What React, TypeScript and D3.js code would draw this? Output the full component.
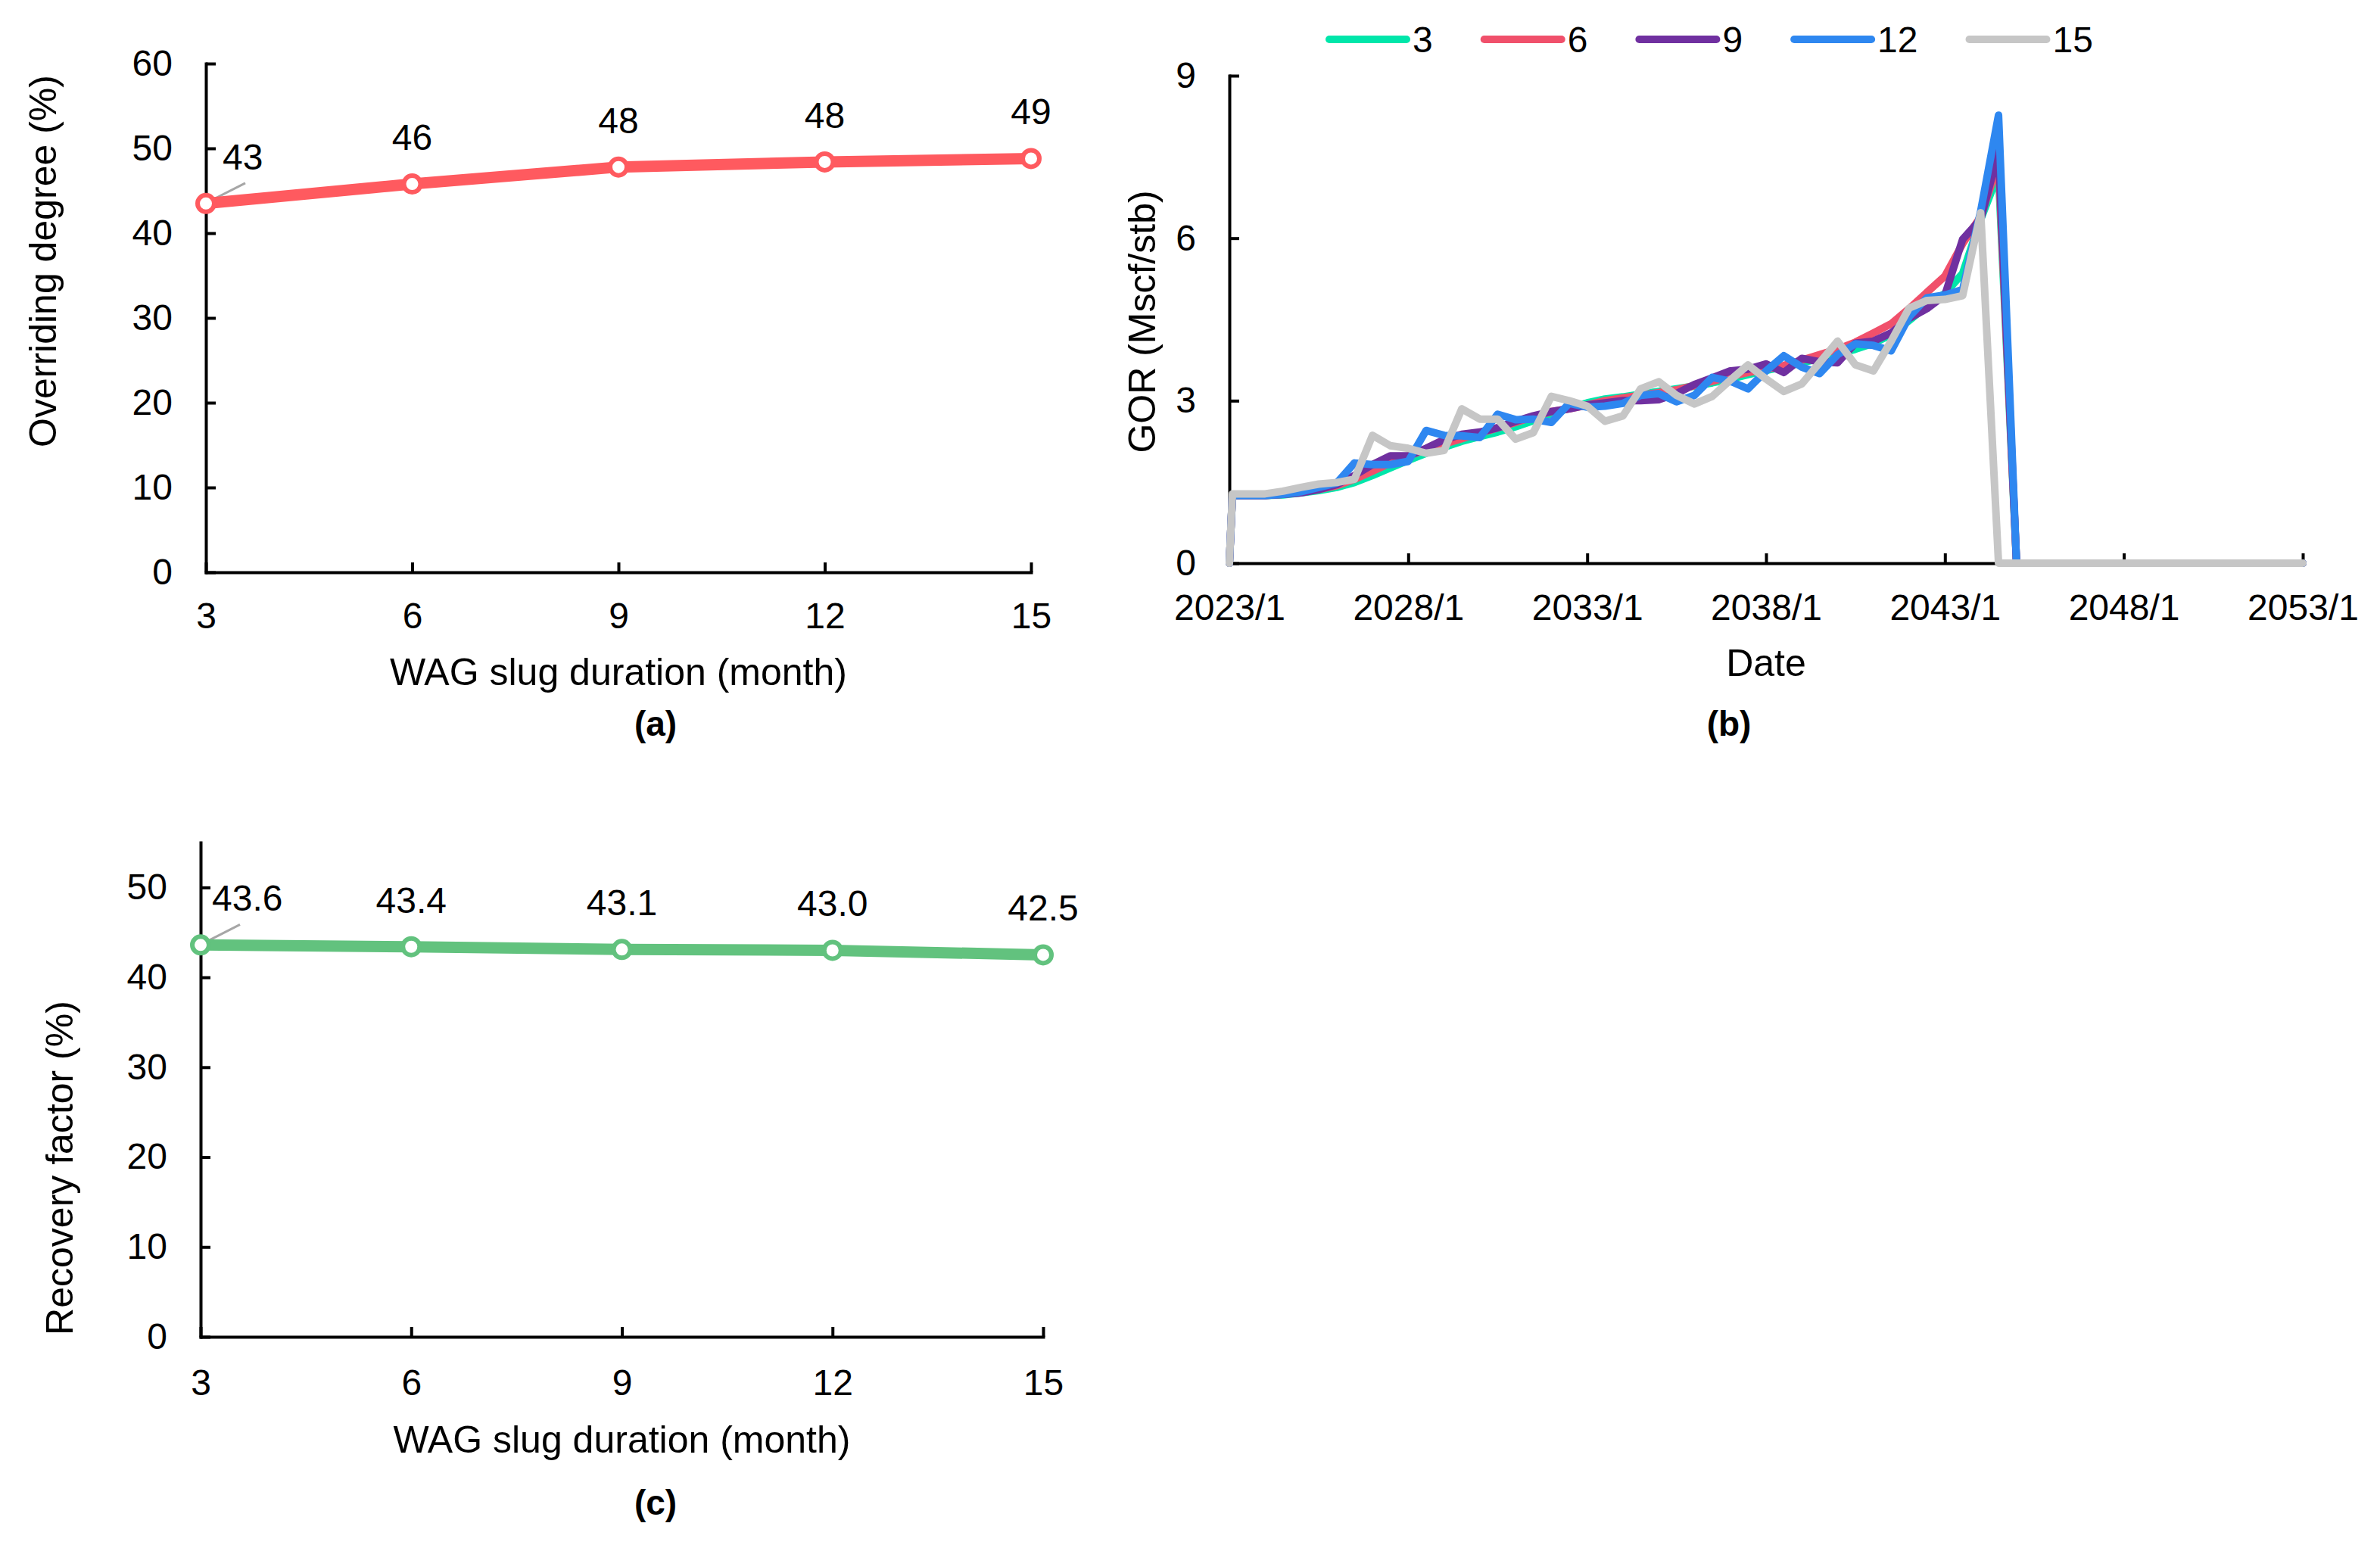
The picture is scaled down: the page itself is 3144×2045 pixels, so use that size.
import { useEffect, useRef } from "react"
import * as d3 from "d3"

// (a) / (c): WAG slug duration sensitivity
const SLUG_MONTHS = [3, 6, 9, 12, 15]
const OVERRIDING_DEGREE = [43.5, 45.8, 47.8, 48.4, 48.8]
const OVERRIDING_LABELS = ["43", "46", "48", "48", "49"]
const OVERRIDING_TICKS = [0, 10, 20, 30, 40, 50, 60]
const RECOVERY_FACTOR = [43.6, 43.4, 43.1, 43.0, 42.5]
const RECOVERY_LABELS = ["43.6", "43.4", "43.1", "43.0", "42.5"]
const RECOVERY_TICKS = [0, 10, 20, 30, 40, 50]

// (b): GOR vs date, one series per slug duration
const DATES = [
  "2023/1", "2023/2", "2023/7", "2024/1", "2024/7", "2025/1", "2025/7", "2026/1", "2026/7",
  "2027/1", "2027/7", "2028/1", "2028/7", "2029/1", "2029/7", "2030/1", "2030/7", "2031/1",
  "2031/7", "2032/1", "2032/7", "2033/1", "2033/7", "2034/1", "2034/7", "2035/1", "2035/7",
  "2036/1", "2036/7", "2037/1", "2037/7", "2038/1", "2038/7", "2039/1", "2039/7", "2040/1",
  "2040/7", "2041/1", "2041/7", "2042/1", "2042/7", "2043/1", "2043/7", "2044/1", "2044/7",
  "2045/1", "2053/1",
]
const GOR_3 = [
  0, 1.25, 1.25, 1.25, 1.26, 1.3, 1.34, 1.4, 1.49, 1.62, 1.76, 1.9, 2.03, 2.14, 2.25, 2.34,
  2.42, 2.52, 2.63, 2.76, 2.86, 2.96, 3.03, 3.07, 3.12, 3.17, 3.22, 3.27, 3.33, 3.4, 3.48,
  3.56, 3.63, 3.7, 3.78, 3.86, 3.95, 4.06, 4.22, 4.48, 4.75, 4.98, 5.35, 6.35, 7.2, 0, 0,
]
const GOR_6 = [
  0, 1.25, 1.25, 1.25, 1.27, 1.31, 1.36, 1.43, 1.55, 1.7, 1.85, 1.98, 2.1, 2.2, 2.3, 2.4,
  2.5, 2.6, 2.7, 2.8, 2.85, 2.92, 3.0, 3.05, 3.1, 3.15, 3.2, 3.28, 3.36, 3.45, 3.52, 3.58,
  3.65, 3.75, 3.85, 3.95, 4.08, 4.25, 4.42, 4.7, 5.0, 5.3, 5.9, 6.4, 7.4, 0, 0,
]
const GOR_9 = [
  0, 1.25, 1.25, 1.25, 1.27, 1.3, 1.36, 1.45, 1.62, 1.82, 1.98, 1.98, 2.12, 2.28, 2.38, 2.42,
  2.5, 2.62, 2.72, 2.8, 2.85, 2.92, 2.96, 3.0, 3.0, 3.02, 3.13, 3.3, 3.42, 3.55, 3.58, 3.68,
  3.52, 3.78, 3.72, 3.7, 4.06, 4.1, 4.25, 4.52, 4.7, 4.95, 5.98, 6.35, 7.6, 0, 0,
]
const GOR_12 = [
  0, 1.25, 1.25, 1.25, 1.27, 1.32, 1.4, 1.48, 1.85, 1.82, 1.82, 1.88, 2.45, 2.36, 2.35, 2.32,
  2.75, 2.65, 2.66, 2.6, 2.95, 2.88, 2.9, 2.95, 3.1, 3.13, 2.98, 3.1, 3.43, 3.36, 3.22, 3.55,
  3.83, 3.62, 3.5, 3.85, 4.05, 4.02, 3.92, 4.55, 4.9, 4.95, 5.05, 6.5, 8.27, 0, 0,
]
const GOR_15 = [
  0, 1.28, 1.28, 1.28, 1.33, 1.4, 1.46, 1.49, 1.55, 2.36, 2.17, 2.12, 2.03, 2.08, 2.85, 2.66,
  2.66, 2.29, 2.41, 3.08, 3.0, 2.9, 2.62, 2.72, 3.22, 3.35, 3.1, 2.94, 3.08, 3.38, 3.66, 3.4,
  3.17, 3.31, 3.7, 4.1, 3.66, 3.55, 4.1, 4.71, 4.85, 4.87, 4.94, 6.47, 0, 0, 0,
]
const SERIES_NAMES = ["3", "6", "9", "12", "15"]
const SERIES_VALUES = [GOR_3, GOR_6, GOR_9, GOR_12, GOR_15]
const SERIES_COLORS = ["#00E6AA", "#F0506B", "#7030A0", "#2E87F0", "#C6C6C6"]
const DATE_TICKS = ["2023/1", "2028/1", "2033/1", "2038/1", "2043/1", "2048/1", "2053/1"]
const GOR_TICKS = [0, 3, 6, 9]

const W = 3144
const H = 2045
const FONT = '"Liberation Sans", Arial, Helvetica, sans-serif'
const FS = 48

type Sel = d3.Selection<SVGSVGElement, unknown, null, undefined>

function styleAxis(g: d3.Selection<SVGGElement, unknown, null, undefined>) {
  g.attr("font-size", FS).attr("font-family", FONT)
  g.selectAll(".domain").attr("stroke", "#000").attr("stroke-width", 4).attr("stroke-linecap", "square")
  g.selectAll(".tick line").attr("stroke", "#000").attr("stroke-width", 4)
  g.selectAll(".tick text").attr("fill", "#000")
}

interface SlugPanel {
  x0: number
  x1: number
  yTop: number
  yBottom: number
  yMax: number
  yTicks: number[]
  values: number[]
  labels: string[]
  color: string
  yTitle: string
  yTitleX: number
  yTitleY: number
  xPad: number
  xTitleY: number
  tag: string
  tagX: number
  tagY: number
  firstDx: number
}

function drawSlugPanel(svg: Sel, p: SlugPanel) {
  const x = d3.scaleLinear().domain([3, 15]).range([p.x0, p.x1])
  const y = d3.scaleLinear().domain([0, p.yMax]).range([p.yBottom, p.yTop])
  const g = svg.append("g")

  const ya = g.append("g").attr("transform", `translate(${p.x0},0)`)
    .call(d3.axisLeft(y).tickValues(p.yTicks).tickSize(-13).tickSizeOuter(0).tickPadding(44))
  styleAxis(ya)
  const xa = g.append("g").attr("transform", `translate(0,${p.yBottom})`)
    .call(d3.axisBottom(x).tickValues(SLUG_MONTHS).tickSize(-13).tickSizeOuter(0).tickPadding(p.xPad))
  styleAxis(xa)

  const pts = SLUG_MONTHS.map((m, i) => [x(m), y(p.values[i])] as [number, number])

  // leader line for the first label
  g.append("line")
    .attr("x1", pts[0][0] + 5).attr("y1", pts[0][1] - 3)
    .attr("x2", pts[0][0] + 52).attr("y2", pts[0][1] - 27)
    .attr("stroke", "#A6A6A6").attr("stroke-width", 3)

  g.append("path")
    .attr("d", d3.line()(pts))
    .attr("fill", "none")
    .attr("stroke", p.color)
    .attr("stroke-width", 15)
    .attr("stroke-linejoin", "round")
    .attr("stroke-linecap", "round")

  g.selectAll("circle.mk").data(pts).join("circle")
    .attr("class", "mk")
    .attr("cx", (d) => d[0]).attr("cy", (d) => d[1])
    .attr("r", 11)
    .attr("fill", "#fff")
    .attr("stroke", p.color)
    .attr("stroke-width", 6)

  g.selectAll("text.lbl").data(pts).join("text")
    .attr("class", "lbl")
    .attr("x", (d, i) => (i === 0 ? d[0] + p.firstDx : d[0]))
    .attr("y", (d) => d[1] - 45)
    .attr("text-anchor", (_d, i) => (i === 0 ? "start" : "middle"))
    .attr("font-size", FS).attr("font-family", FONT).attr("fill", "#000")
    .text((_d, i) => p.labels[i])

  g.append("text")
    .attr("transform", `translate(${p.yTitleX},${p.yTitleY}) rotate(-90)`)
    .attr("dy", "0.35em")
    .attr("text-anchor", "middle")
    .attr("font-size", FS + 2).attr("font-family", FONT).attr("fill", "#000")
    .text(p.yTitle)

  g.append("text")
    .attr("x", (p.x0 + p.x1) / 2).attr("y", p.xTitleY)
    .attr("text-anchor", "middle")
    .attr("font-size", FS + 2).attr("font-family", FONT).attr("fill", "#000")
    .text("WAG slug duration (month)")

  g.append("text")
    .attr("x", p.tagX).attr("y", p.tagY)
    .attr("text-anchor", "middle")
    .attr("font-size", FS - 2).attr("font-weight", "bold").attr("font-family", FONT).attr("fill", "#000")
    .text(p.tag)
}

function drawGorPanel(svg: Sel) {
  const parse = d3.timeParse("%Y/%m")
  const dates = DATES.map((d) => parse(d) as Date)
  const x = d3.scaleTime().domain([parse("2023/1") as Date, parse("2053/1") as Date]).range([1624, 3042])
  const y = d3.scaleLinear().domain([0, 9]).range([744, 100])
  const g = svg.append("g")

  const ya = g.append("g").attr("transform", "translate(1624,0)")
    .call(d3.axisLeft(y).tickValues(GOR_TICKS).tickSize(-13).tickSizeOuter(0).tickPadding(44))
  styleAxis(ya)
  const xa = g.append("g").attr("transform", "translate(0,744)")
    .call(
      d3.axisBottom(x)
        .tickValues(DATE_TICKS.map((d) => parse(d) as Date))
        .tickFormat((d) => d3.timeFormat("%Y/%-m")(d as Date))
        .tickSize(-13).tickSizeOuter(0).tickPadding(41)
    )
  styleAxis(xa)

  const line = d3.line<number>().x((_v, i) => x(dates[i])).y((v) => y(v))
  SERIES_VALUES.forEach((vals, s) => {
    g.append("path")
      .attr("d", line(vals))
      .attr("fill", "none")
      .attr("stroke", SERIES_COLORS[s])
      .attr("stroke-width", 10)
      .attr("stroke-linejoin", "round")
      .attr("stroke-linecap", "round")
  })

  // legend
  const lg = g.append("g").attr("font-size", FS).attr("font-family", FONT)
  let lx = 1756
  SERIES_NAMES.forEach((name, s) => {
    lg.append("line")
      .attr("x1", lx).attr("x2", lx + 102).attr("y1", 52).attr("y2", 52)
      .attr("stroke", SERIES_COLORS[s]).attr("stroke-width", 10).attr("stroke-linecap", "round")
    const t = lg.append("text")
      .attr("x", lx + 110).attr("y", 52).attr("dy", "0.35em")
      .attr("fill", "#000")
      .text(name)
    const tw = (t.node() as SVGTextElement).getComputedTextLength()
    lx = lx + 110 + tw + 68
  })

  g.append("text")
    .attr("transform", "translate(1508,425) rotate(-90)")
    .attr("dy", "0.35em")
    .attr("text-anchor", "middle")
    .attr("font-size", FS + 2).attr("font-family", FONT).attr("fill", "#000")
    .text("GOR (Mscf/stb)")

  g.append("text")
    .attr("x", 2333).attr("y", 893)
    .attr("text-anchor", "middle")
    .attr("font-size", FS + 2).attr("font-family", FONT).attr("fill", "#000")
    .text("Date")

  g.append("text")
    .attr("x", 2284).attr("y", 972)
    .attr("text-anchor", "middle")
    .attr("font-size", FS - 2).attr("font-weight", "bold").attr("font-family", FONT).attr("fill", "#000")
    .text("(b)")
}

export default function App() {
  const svgRef = useRef<SVGSVGElement>(null)

  useEffect(() => {
    if (!svgRef.current) return
    const svg = d3.select(svgRef.current)
    svg.selectAll("*").remove()
    svg.append("rect").attr("width", W).attr("height", H).attr("fill", "#fff")

    drawSlugPanel(svg, {
      x0: 272, x1: 1362, yTop: 84, yBottom: 756, yMax: 60, yTicks: OVERRIDING_TICKS,
      values: OVERRIDING_DEGREE, labels: OVERRIDING_LABELS, color: "#FF5A5F",
      yTitle: "Overriding degree (%)", yTitleX: 56, yTitleY: 345,
      xPad: 40, xTitleY: 905, tag: "(a)", tagX: 866, tagY: 972, firstDx: 22,
    })

    drawGorPanel(svg)

    drawSlugPanel(svg, {
      x0: 265, x1: 1378, yTop: 1113, yBottom: 1766, yMax: 55, yTicks: RECOVERY_TICKS,
      values: RECOVERY_FACTOR, labels: RECOVERY_LABELS, color: "#62C27E",
      yTitle: "Recovery factor (%)", yTitleX: 78, yTitleY: 1543,
      xPad: 43, xTitleY: 1919, tag: "(c)", tagX: 866, tagY: 2001, firstDx: 15,
    })
  }, [])

  return <svg ref={svgRef} width={W} height={H} style={{ position: "absolute", left: 0, top: 0 }} />
}
